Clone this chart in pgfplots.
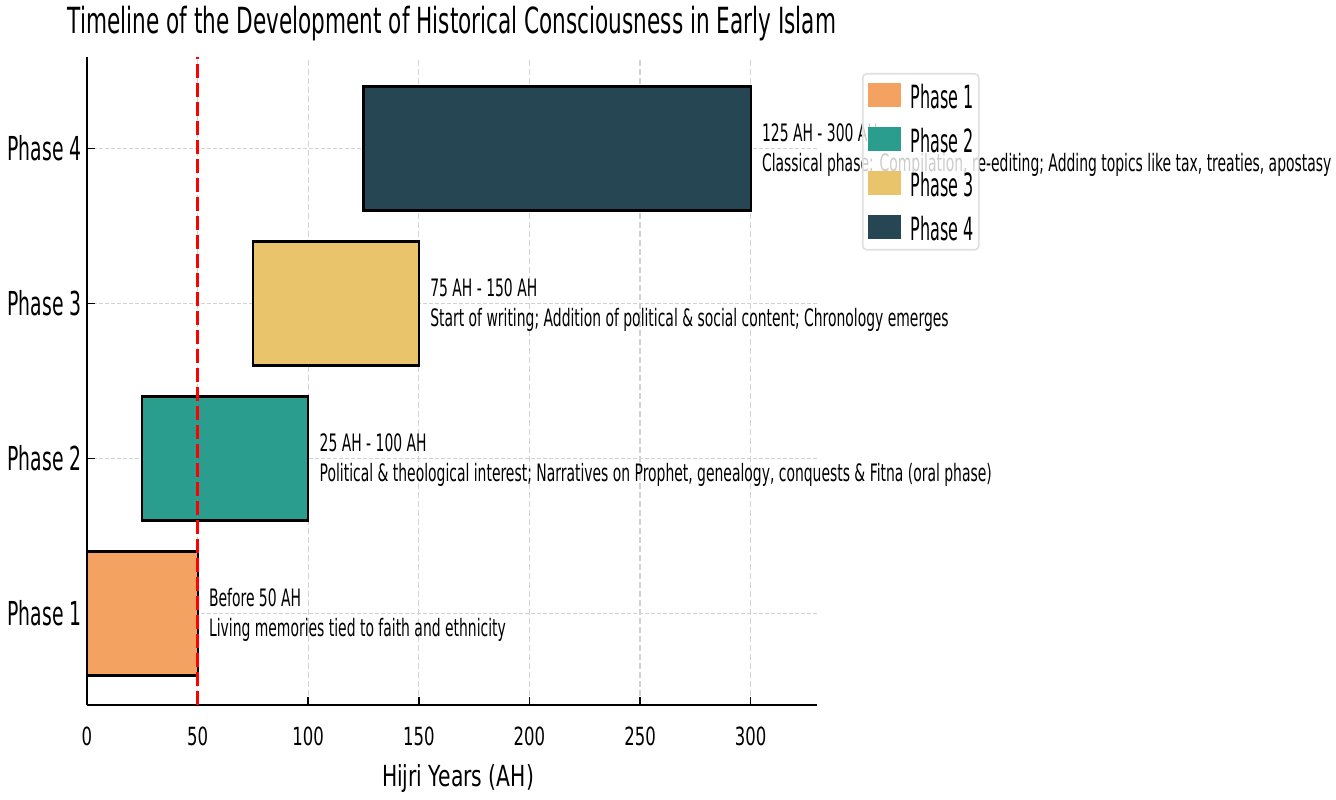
\documentclass[border=0pt]{standalone}
\usepackage{pgfplots}
\pgfplotsset{compat=1.18}
\usepackage{fontspec}
\setmainfont{DejaVu Sans}[FakeStretch=0.62]
\newfontfamily\fTitle{DejaVu Sans}[FakeStretch=0.60]
\newfontfamily\fYt{DejaVu Sans}[FakeStretch=0.57]
\newfontfamily\fXl{DejaVu Sans}[FakeStretch=0.70]
\newfontfamily\fXt{DejaVu Sans}[FakeStretch=0.66]
\newfontfamily\fAnn{DejaVu Sans}[FakeStretch=0.58]
\newfontfamily\fLeg{DejaVu Sans}[FakeStretch=0.50]
\definecolor{ph1}{HTML}{F4A261}
\definecolor{ph2}{HTML}{2A9D8F}
\definecolor{ph3}{HTML}{E9C46A}
\definecolor{ph4}{HTML}{264653}
\newcommand{\fsz}[1]{\fontsize{#1}{1.2\dimexpr #1\relax}\selectfont}
\begin{document}
\begin{tikzpicture}
\begin{axis}[
  name=ax,
  width=365pt, height=324pt, scale only axis,
  xmin=0, xmax=330, ymin=-0.59, ymax=3.59,
  axis lines=left, axis line style={-, line width=1pt, black},
  xtick={0,50,...,300}, ytick={0,1,2,3},
  yticklabels={Phase 1,Phase 2,Phase 3,Phase 4},
  tick align=inside, major tick length=4pt,
  tick style={black, line width=0.8pt},
  xmajorgrids, ymajorgrids,
  x grid style={gray!35, line width=0.6pt, dash pattern=on 3pt off 1.5pt},
  y grid style={gray!35, line width=0.6pt, dash pattern=on 2pt off 1pt},
  /pgf/number format/assume math mode=true,
  xticklabel style={font=\fXt\fsz{12.5pt}, inner sep=0pt, anchor=north, yshift=-11pt},
  yticklabel style={font=\fYt\fsz{16.5pt}, inner sep=0pt, anchor=east, xshift=-2.5pt},
  title={Timeline of the Development of Historical Consciousness in Early Islam},
  title style={font=\fTitle\fsz{18pt}, at={(axis description cs:0.5,1)}, anchor=base, yshift=5.5pt, inner sep=0pt},
  xlabel={Hijri Years (AH)},
  xlabel style={font=\fXl\fsz{14.5pt}, at={(axis description cs:0.5,0)}, anchor=base, xshift=3pt, yshift=-41pt, inner sep=0pt},
  clip=false,
  legend cell align=left,
  legend style={at={(axis description cs:1.0616,0.9753)}, anchor=north west,
    draw=gray!25, line width=0.8pt, rounded corners=2pt,
    fill=white, fill opacity=0.8, draw opacity=1, text opacity=1,
    font=\fLeg\fsz{16pt}, inner xsep=2.5pt, inner ysep=4.5pt, row sep=9pt,
    nodes={inner sep=0pt, text height=12pt, text depth=0pt},
    /tikz/every odd column/.append style={column sep=5pt}},
  legend image code/.code={\fill[#1, fill opacity=1, draw=none, sharp corners] (0pt,-5pt) rectangle (16.5pt,7pt);},
]
% phase bars: start/end in AH, bar from y-0.4 to y+0.4
\addplot[fill=ph1, draw=black, line width=1.1pt] coordinates {(0,-0.4) (50,-0.4) (50,0.4) (0,0.4)} -- cycle;
\addplot[fill=ph2, draw=black, line width=1.1pt] coordinates {(25,0.6) (100,0.6) (100,1.4) (25,1.4)} -- cycle;
\addplot[fill=ph3, draw=black, line width=1.1pt] coordinates {(75,1.6) (150,1.6) (150,2.4) (75,2.4)} -- cycle;
\addplot[fill=ph4, draw=black, line width=1.1pt] coordinates {(125,2.6) (300,2.6) (300,3.4) (125,3.4)} -- cycle;
\addplot[red, line width=1.25pt, dash pattern=on 7pt off 2.5pt, forget plot] coordinates {(50,-0.59) (50,3.59)};
\legend{Phase 1,Phase 2,Phase 3,Phase 4}

\begin{scope}[every node/.style={font=\fAnn\fsz{12pt}, inner sep=0pt, anchor=base west}]
\node[yshift=3.5pt] at (axis cs:55,0) {Before 50 AH};
\node[yshift=-11.5pt] at (axis cs:55,0) {Living memories tied to faith and ethnicity};
\node[yshift=3.5pt] at (axis cs:105,1) {25 AH - 100 AH};
\node[yshift=-11.5pt] at (axis cs:105,1) {Political \& theological interest; Narratives on Prophet, genealogy, conquests \& Fitna (oral phase)};
\node[yshift=3.5pt] at (axis cs:155,2) {75 AH - 150 AH};
\node[yshift=-11.5pt] at (axis cs:155,2) {Start of writing; Addition of political \& social content; Chronology emerges};
\node[yshift=3.5pt] at (axis cs:305,3) {125 AH - 300 AH};
\node[yshift=-11.5pt] at (axis cs:305,3) {Classical phase: Compilation, re-editing; Adding topics like tax, treaties, apostasy};
\end{scope}
\end{axis}
\pgfresetboundingbox
\path ([shift={(-43.5pt,-47.5pt)}]ax.south west) rectangle ([shift={(259.5pt,28.5pt)}]ax.north east);
\end{tikzpicture}
\end{document}
